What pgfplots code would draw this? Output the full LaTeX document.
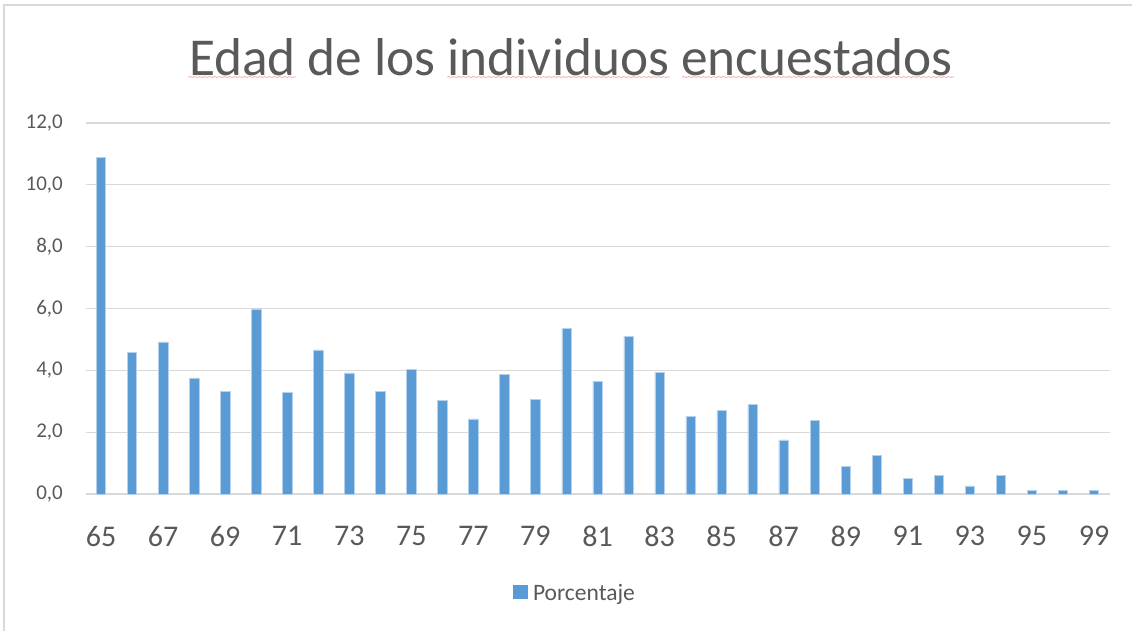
\documentclass[border=0pt]{standalone}
\usepackage{fontspec}
\setmainfont{Carlito}
\usepackage{pgfplots}
\usepackage{pgfplotstable}
\pgfplotsset{compat=1.18}
\usetikzlibrary{decorations.pathmorphing}
\definecolor{barblue}{HTML}{5B9BD5}
\definecolor{txtgray}{HTML}{595959}
\definecolor{gridgray}{HTML}{D9D9D9}
\definecolor{squig}{HTML}{F4AAAA}

% idx = position on the axis, edad = age, pct = percentage
\pgfplotstableread{
idx edad pct
0  65 10.88
1  66 4.59
2  67 4.92
3  68 3.76
4  69 3.32
5  70 5.99
6  71 3.29
7  72 4.66
8  73 3.92
9  74 3.33
10 75 4.04
11 76 3.03
12 77 2.43
13 78 3.86
14 79 3.07
15 80 5.36
16 81 3.65
17 82 5.10
18 83 3.94
19 84 2.51
20 85 2.70
21 86 2.91
22 87 1.75
23 88 2.37
24 89 0.90
25 90 1.26
26 91 0.50
27 92 0.61
28 93 0.26
29 94 0.61
30 95 0.12
31 96 0.12
32 99 0.12
}\edades

\begin{document}
\begin{tikzpicture}[x=1pt,y=1pt]
\useasboundingbox (0,0) rectangle (1132,630);
% outer chart frame (cut at right and bottom)
\draw[gridgray, line width=1.5pt] (4,-10) -- (4,625) -- (1145,625);

% title with spell-check squiggles
\node[txtgray, font=\fontsize{53.3}{60}\selectfont, anchor=base, inner sep=0pt]
  at (571,554) {Edad de los individuos encuestados};
\begin{scope}[squig, line width=0.8pt,
  decoration={snake, segment length=5pt, amplitude=0.4pt}]
\draw[decorate] (188,553) -- (296,553);
\draw[decorate] (447,553) -- (670,553);
\draw[decorate] (682,553) -- (954,553);
\end{scope}

\begin{axis}[
  at={(85.5pt,136pt)}, anchor=south west,
  scale only axis,
  width=1024pt, height=371pt,
  xmin=-0.5, xmax=32.5,
  ymin=0, ymax=12,
  ytick={0,2,...,12},
  xtick={0,2,...,32},
  xticklabels={65,67,69,71,73,75,77,79,81,83,85,87,89,91,93,95,99},
  axis line style={draw=none},
  major tick style={draw=none},
  ymajorgrids,
  grid style={gridgray, line width=1.3pt},
  yticklabel style={
    /pgf/number format/.cd, fixed, fixed zerofill, precision=1, use comma, assume math mode=true,
    /tikz/.cd, font=\fontsize{21}{23}\selectfont, text=txtgray,
    anchor=east, inner sep=0pt, xshift=-22.5pt},
  xticklabel style={font=\fontsize{30}{32}\selectfont, text=txtgray,
    anchor=north, inner sep=0pt, yshift=-32pt},
  legend style={at={(0.478,-0.267)}, anchor=center, draw=none,
    font=\fontsize{23.5}{25}\selectfont, text=txtgray},
  legend image code/.code={
    \fill[barblue] (0pt,-5.5pt) rectangle (13.5pt,7.5pt);
    \path (17.5pt,0pt);},
]
\addplot[ybar, bar width=9.4pt, fill=barblue, draw=barblue!45, line width=0.5pt]
  table[x=idx, y=pct] {\edades};
\addlegendentry{Porcentaje}
\end{axis}
\end{tikzpicture}
\end{document}
